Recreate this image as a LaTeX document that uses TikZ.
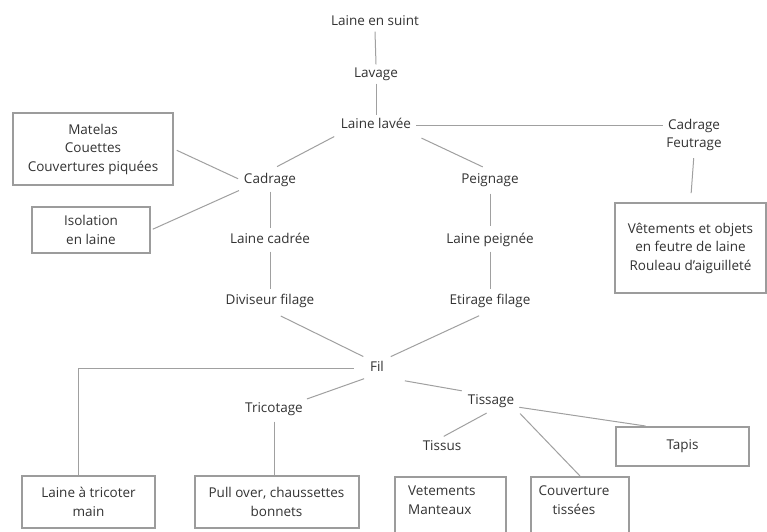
\documentclass[tikz,border=0pt]{standalone}
\usepackage{fontspec}
\setmainfont{Open Sans}
\usetikzlibrary{calc}
\definecolor{txt}{HTML}{333333}
\definecolor{ln}{HTML}{A0A0A0}
\definecolor{bx}{HTML}{9C9C9C}
\tikzset{
  lbl/.style={font=\fontsize{13.5}{18.5}\selectfont, text=txt, inner sep=3pt, text height=10pt, text depth=3pt},
  mlbl/.style={font=\fontsize{13.5}{18.5}\selectfont, text=txt, align=center, inner sep=3pt},
  boxnode/.style={draw=bx, line width=2pt, font=\fontsize{13.5}{18.5}\selectfont, text=txt, align=center, inner sep=0pt},
  conn/.style={draw=ln, line width=1pt}
}
\begin{document}
\begin{tikzpicture}[x=1pt,y=-1pt]
\clip (0,0) rectangle (767,531);
\fill[white] (0,0) rectangle (767,531);
% text nodes
\node[lbl] (suint) at (375,22) {Laine en suint};
\node[lbl] (lavage) at (376,74) {Lavage};
\node[lbl] (lavee) at (376,125) {Laine lavée};
\node[mlbl] (cf) at (694,135) {Cadrage\\Feutrage};
\node[lbl] (cadrage) at (270,180) {Cadrage};
\node[lbl] (peignage) at (490,180) {Peignage};
\node[lbl] (lcadree) at (270,240) {Laine cadrée};
\node[lbl] (lpeignee) at (490,240) {Laine peignée};
\node[lbl] (diviseur) at (270,301) {Diviseur filage};
\node[lbl] (etirage) at (490,301) {Etirage filage};
\node[lbl] (fil) at (377,368) {Fil};
\node[lbl] (tricotage) at (274,409) {Tricotage};
\node[lbl] (tissage) at (491,401) {Tissage};
\node[lbl] (tissus) at (442,447) {Tissus};
% boxes
\node[boxnode, minimum width=160pt, minimum height=72pt] (matelas) at (93,149) {Matelas\\Couettes\\Couvertures piquées};
\node[boxnode, minimum width=118pt, minimum height=46pt] (isolation) at (91,230) {Isolation\\en laine};
\node[boxnode, minimum width=151pt, minimum height=90pt] (vet) at (690.5,248) {Vêtements et objets\\en feutre de laine\\Rouleau d'aiguilleté};
\node[boxnode, minimum width=133pt, minimum height=39pt] (tapis) at (682.5,446.5) {Tapis};
\node[boxnode, minimum width=133pt, minimum height=52pt] (ltric) at (88.5,502) {Laine à tricoter\\main};
\node[boxnode, minimum width=164pt, minimum height=52pt] (pull) at (276.5,502) {Pull over, chaussettes\\bonnets};
\node[boxnode, minimum width=111pt, minimum height=70pt, align=left, text width=90pt] (vetm) at (450.5,512) {};
\node[font=\fontsize{13.5}{18.5}\selectfont, text=txt, align=left, anchor=north west, inner sep=0pt] (vetmtxt) at (408,486) {Vetements\\Manteaux};
\node[boxnode, minimum width=98pt, minimum height=70pt] (couv) at (580,512) {};
\node[font=\fontsize{13.5}{18.5}\selectfont, text=txt, align=center, anchor=north, inner sep=0pt] (couvtxt) at (574,486) {Couverture\\tissées};
% connectors
\draw[conn] (suint.south) -- (lavage.north);
\draw[conn] (lavage.south) -- (lavee.north);
\draw[conn, shorten <=2pt] (lavee.east) -- (lavee.east -| cf.west);
\draw[conn, shorten <=4pt, shorten >=8pt] (lavee.south west) -- (cadrage.north);
\draw[conn, shorten <=8pt, shorten >=8pt] (lavee.south east) -- (peignage.north);
\draw[conn, shorten <=3pt, shorten >=3pt] (matelas.east) -- (cadrage.west);
\draw[conn, shorten <=2pt, shorten >=2pt] (isolation.east) -- (cadrage.south west);
\draw[conn, shorten <=2pt, shorten >=2pt] (cadrage.south) -- (lcadree.north);
\draw[conn, shorten <=2pt, shorten >=2pt] (lcadree.south) -- (diviseur.north);
\draw[conn, shorten <=4pt, shorten >=4pt] (peignage.south) -- (lpeignee.north);
\draw[conn, shorten <=2pt, shorten >=2pt] (lpeignee.south) -- (etirage.north);
\draw[conn, shorten <=4pt, shorten >=9pt] (cf.south) -- (vet.north);
\draw[conn, shorten <=12pt, shorten >=4pt] (diviseur.south) -- (fil.north west);
\draw[conn, shorten <=12pt, shorten >=4pt] (etirage.south) -- (fil.north east);
\draw[conn, shorten <=13pt] (fil.west) -| ($(ltric.north)+(-10,0)$);
\draw[conn, shorten <=3pt, shorten >=1pt] (fil.south west) -- (tricotage.north east);
\draw[conn, shorten <=3pt] (tricotage.south) -- (tricotage.south |- pull.north);
\draw[conn, shorten <=18pt, shorten >=3pt] (fil.south east) -- (tissage.north west);
\draw[conn, shorten <=5pt, shorten >=2pt] (tissage.south) -- (tissus.north);
\draw[conn, shorten <=4pt] (tissage.south east) -- (couv.north);
\draw[conn, shorten <=2pt] ($(tissage.east)+(0,6)$) -- (tapis.151);
\end{tikzpicture}
\end{document}
